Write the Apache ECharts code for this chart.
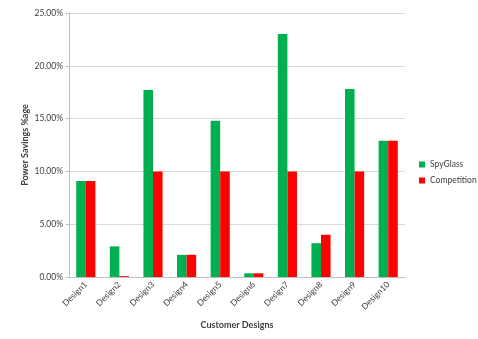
<!DOCTYPE html>
<html>
<head>
<meta charset="utf-8">
<script src="https://cdn.jsdelivr.net/npm/echarts@6/dist/echarts.min.js"></script>
<style>
  html, body { margin: 0; padding: 0; background: #ffffff; }
  #chart { width: 478px; height: 339px; }
</style>
</head>
<body>
<div id="chart"></div>
<script>
// Power savings per customer design, in percent
const designs = ['Design1', 'Design2', 'Design3', 'Design4', 'Design5',
                 'Design6', 'Design7', 'Design8', 'Design9', 'Design10'];
const spyGlass = [9.1, 2.9, 17.7, 2.1, 14.8, 0.35, 23.0, 3.2, 17.8, 12.9];
const competition = [9.1, 0.08, 10.0, 2.1, 10.0, 0.35, 10.0, 4.0, 10.0, 12.9];
const seriesNames = ['SpyGlass', 'Competition'];

const font = 'Lato, "Open Sans", sans-serif';
const chart = echarts.init(document.getElementById('chart'));

chart.setOption({
  animation: false,
  backgroundColor: '#ffffff',
  grid: { left: 69, right: 73, top: 13, bottom: 62 },
  legend: {
    orient: 'vertical',
    left: 419,
    top: 160,
    padding: 0,
    itemWidth: 6,
    itemHeight: 6,
    itemGap: 7,
    icon: 'rect',
    textStyle: { fontFamily: font, fontSize: 8.5, color: '#404040' },
    data: seriesNames
  },
  xAxis: {
    type: 'category',
    data: designs,
    name: 'Customer Designs',
    nameLocation: 'middle',
    nameGap: 44,
    nameMoveOverlap: false,
    nameTextStyle: { fontFamily: font, fontSize: 9, fontWeight: 'bold', color: '#404040' },
    axisLine: { lineStyle: { color: '#bfbfbf' } },
    axisTick: { show: false },
    axisLabel: {
      rotate: 45, fontFamily: font, fontSize: 8.5, color: '#404040', margin: 6, interval: 0
    }
  },
  yAxis: {
    type: 'value',
    min: 0,
    max: 25,
    interval: 5,
    name: 'Power Savings %age',
    nameLocation: 'middle',
    nameGap: 39,
    nameMoveOverlap: false,
    nameTextStyle: { fontFamily: font, fontSize: 9, fontWeight: 'bold', color: '#404040' },
    axisLine: { show: true, lineStyle: { color: '#bfbfbf' } },
    axisTick: { show: true, length: 3, lineStyle: { color: '#bfbfbf' } },
    axisLabel: {
      fontFamily: font, fontSize: 8.5, color: '#404040', margin: 6,
      formatter: v => v.toFixed(2) + '%'
    },
    splitLine: { lineStyle: { color: '#d9d9d9' } }
  },
  series: [
    {
      name: seriesNames[0], type: 'bar', data: spyGlass,
      itemStyle: { color: '#00b050' },
      barGap: '0%', barCategoryGap: '43%'
    },
    {
      name: seriesNames[1], type: 'bar', data: competition,
      itemStyle: { color: '#ff0000' },
      barGap: '0%', barCategoryGap: '43%'
    }
  ]
});
</script>
</body>
</html>
